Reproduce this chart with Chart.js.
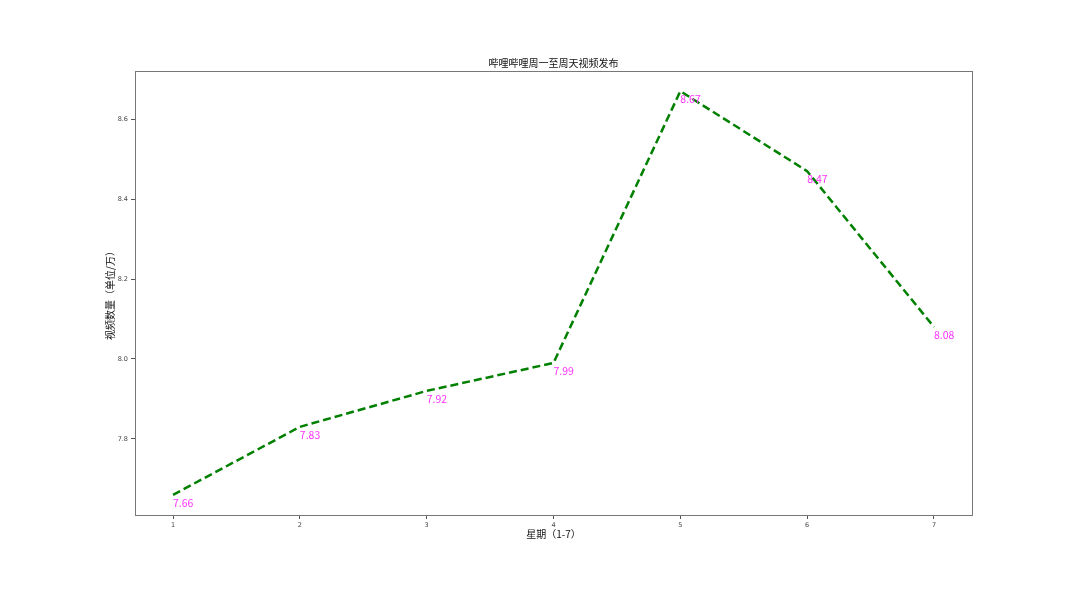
<!DOCTYPE html>
<html>
<head>
<meta charset="utf-8">
<script src="https://cdn.jsdelivr.net/npm/chart.js@4/dist/chart.umd.min.js"></script>
<style>
  html, body { margin: 0; padding: 0; background: #fff; }
  #wrap { width: 1080px; height: 589px; }
</style>
</head>
<body>
<div id="wrap"><canvas id="chart"></canvas></div>
<script>
const days = [1, 2, 3, 4, 5, 6, 7];
const videos = [7.66, 7.83, 7.92, 7.99, 8.67, 8.47, 8.08];
const xTicks = [1, 2, 3, 4, 5, 6, 7];
const yTicks = [7.8, 8.0, 8.2, 8.4, 8.6];
const chartTitle = '哔哩哔哩周一至周天视频发布';

const cjk = "'Noto Sans CJK SC', 'DejaVu Sans', sans-serif";

// value labels under each point, like plt.text
const valueLabels = {
  id: 'valueLabels',
  afterDatasetsDraw(chart) {
    const ctx = chart.ctx;
    const meta = chart.getDatasetMeta(0);
    ctx.save();
    ctx.font = "10.5px " + cjk;
    ctx.fillStyle = '#ff33ff';
    ctx.textAlign = 'left';
    ctx.textBaseline = 'top';
    meta.data.forEach((pt, i) => {
      ctx.fillText(videos[i].toFixed(2), pt.x, pt.y + 3);
    });
    ctx.restore();
  }
};

// top / right spines + title centred over the axes
const frame = {
  id: 'frame',
  afterDraw(chart) {
    const {left, right, top, bottom} = chart.chartArea;
    const ctx = chart.ctx;
    ctx.save();
    ctx.strokeStyle = '#777';
    ctx.lineWidth = 1;
    ctx.strokeRect(left + 0.5, top + 0.5, right - left, bottom - top);
    ctx.font = "10px " + cjk;
    ctx.fillStyle = '#111';
    ctx.textAlign = 'center';
    ctx.textBaseline = 'middle';
    ctx.fillText(chartTitle, (left + right) / 2, top - 8);
    ctx.restore();
  }
};

new Chart(document.getElementById('chart'), {
  type: 'line',
  data: {
    datasets: [{
      data: days.map((d, i) => ({x: d, y: videos[i]})),
      borderColor: '#008000',
      borderWidth: 2.5,
      borderDash: [8, 4],
      pointRadius: 0,
      tension: 0,
      fill: false
    }]
  },
  plugins: [valueLabels, frame],
  options: {
    responsive: true,
    maintainAspectRatio: false,
    animation: false,
    layout: {
      padding: {left: 104, right: 108, top: 71, bottom: 49}
    },
    plugins: {
      legend: {display: false},
      tooltip: {enabled: false},
      title: {display: false}
    },
    scales: {
      x: {
        type: 'linear',
        min: 0.7,
        max: 7.3,
        afterBuildTicks: (s) => { s.ticks = xTicks.map(v => ({value: v})); },
        afterFit: (s) => { s.height = 25; s.paddingLeft = 0; s.paddingRight = 0; },
        grid: {display: true, drawOnChartArea: false, tickLength: 4, color: '#555'},
        border: {display: true, color: '#777'},
        ticks: {
          color: '#444',
          padding: 2,
          maxRotation: 0,
          font: {family: "'DejaVu Sans', sans-serif", size: 6.5},
          callback: (v) => String(v)
        },
        title: {
          display: true,
          text: '星期（1-7）',
          color: '#111',
          font: {family: cjk, size: 10},
          padding: 0
        }
      },
      y: {
        type: 'linear',
        min: 7.6095,
        max: 8.7205,
        afterBuildTicks: (s) => { s.ticks = yTicks.map(v => ({value: v})); },
        afterFit: (s) => { s.width = 31; s.paddingTop = 0; s.paddingBottom = 0; },
        grid: {display: true, drawOnChartArea: false, tickLength: 4, color: '#555'},
        border: {display: true, color: '#777'},
        ticks: {
          color: '#444',
          padding: 3,
          font: {family: "'DejaVu Sans', sans-serif", size: 6.5},
          callback: (v) => v.toFixed(1)
        },
        title: {
          display: true,
          text: '视频数量（单位/万）',
          color: '#111',
          font: {family: cjk, size: 10},
          padding: 0
        }
      }
    }
  }
});
</script>
</body>
</html>
